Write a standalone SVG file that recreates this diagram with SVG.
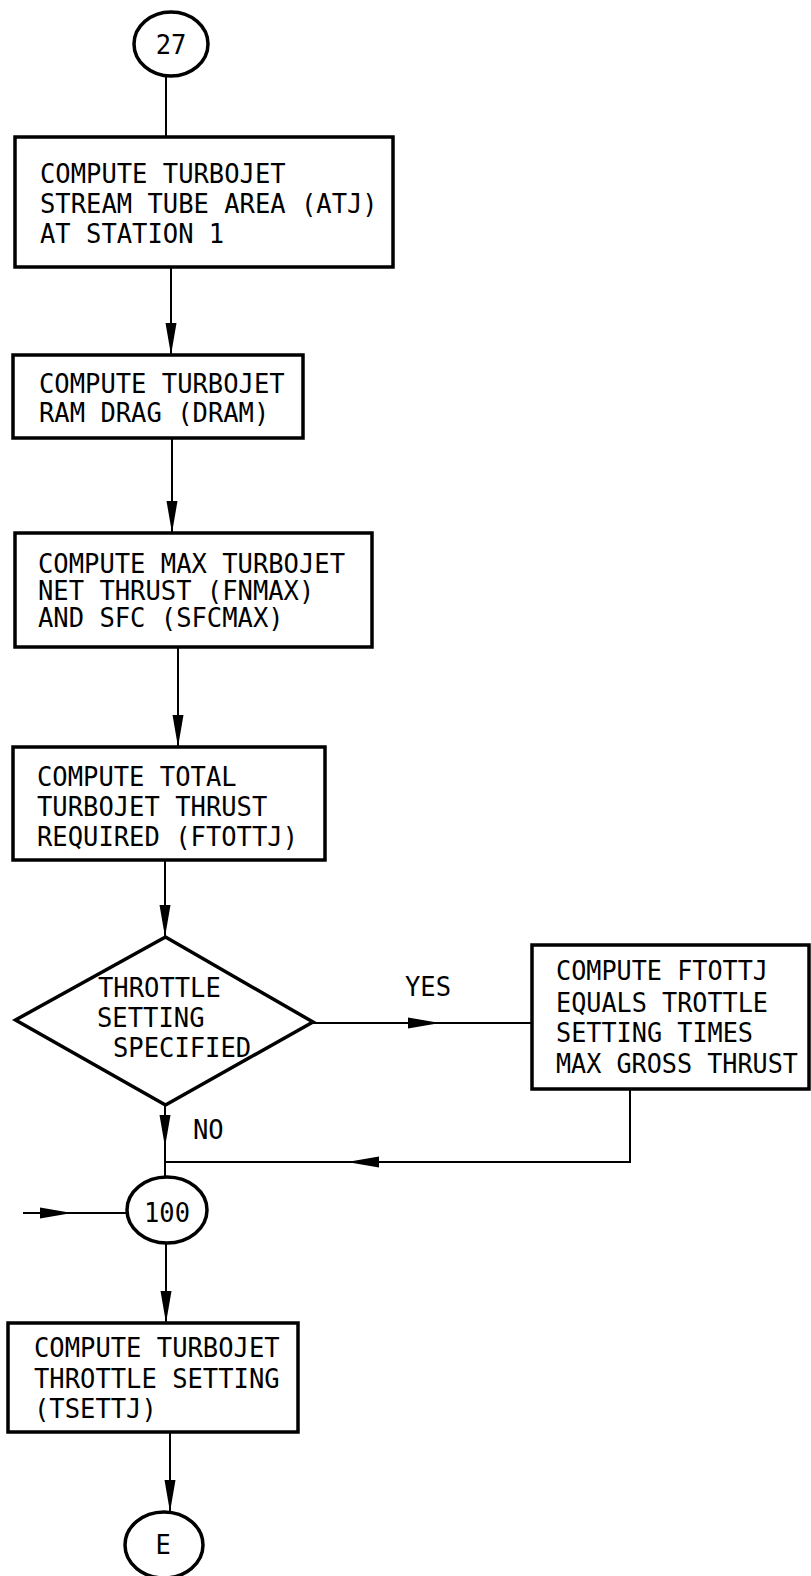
<svg xmlns="http://www.w3.org/2000/svg" width="811" height="1576" viewBox="0 0 811 1576">
<style>
.box{fill:#fff;stroke:#000;stroke-width:3.5}
.term{fill:#fff;stroke:#000;stroke-width:3.5}
.t{font-family:"DejaVu Sans Mono","Liberation Mono",monospace;font-size:27px;fill:#000}
.c{text-anchor:middle}
.ln{fill:none;stroke:#000;stroke-width:2}
</style>
<defs>
<marker id="ah" markerUnits="userSpaceOnUse" markerWidth="32" markerHeight="12" viewBox="0 0 32 12" refX="32" refY="6" orient="auto">
<path d="M0,0.5 L32,6 L0,11.5 Z" fill="#000"/>
</marker>
</defs>
<rect width="811" height="1576" fill="#fff"/>

<g id="connectors">
<path class="ln" d="M166,76 V137"/>
<path class="ln" d="M171,267 V355" marker-end="url(#ah)"/>
<path class="ln" d="M172,438 V533" marker-end="url(#ah)"/>
<path class="ln" d="M178,647 V747" marker-end="url(#ah)"/>
<path class="ln" d="M165,860 V937" marker-end="url(#ah)"/>
<path class="ln" d="M313,1023 H440" marker-end="url(#ah)"/>
<path class="ln" d="M440,1023 H531"/>
<path class="ln" d="M630,1089 V1162 H347" marker-end="url(#ah)"/>
<path class="ln" d="M347,1162 H165"/>
<path class="ln" d="M165,1105 V1147" marker-end="url(#ah)"/>
<path class="ln" d="M165,1147 V1177"/>
<path class="ln" d="M23,1213 H72" marker-end="url(#ah)"/>
<path class="ln" d="M72,1213 H128"/>
<path class="ln" d="M166,1243 V1323" marker-end="url(#ah)"/>
<path class="ln" d="M170,1432 V1512" marker-end="url(#ah)"/>
<text class="t" x="405" y="996" textLength="46" lengthAdjust="spacingAndGlyphs">YES</text>
<text class="t" x="193" y="1139" textLength="30.7" lengthAdjust="spacingAndGlyphs">NO</text>
</g>

<g id="n27">
<ellipse class="term" cx="171" cy="44" rx="37" ry="32"/>
<text class="t" x="155.7" y="54" textLength="30.7" lengthAdjust="spacingAndGlyphs">27</text>
</g>

<g id="box1">
<rect class="box" x="15" y="137" width="378" height="130"/>
<text class="t" x="40" y="183" textLength="245.6" lengthAdjust="spacingAndGlyphs">COMPUTE TURBOJET</text>
<text class="t" x="40" y="213" textLength="337.7" lengthAdjust="spacingAndGlyphs">STREAM TUBE AREA (ATJ)</text>
<text class="t" x="40" y="243" textLength="184.2" lengthAdjust="spacingAndGlyphs">AT STATION 1</text>
</g>

<g id="box2">
<rect class="box" x="13" y="355" width="290" height="83"/>
<text class="t" x="39" y="393" textLength="245.6" lengthAdjust="spacingAndGlyphs">COMPUTE TURBOJET</text>
<text class="t" x="39" y="422" textLength="230.3" lengthAdjust="spacingAndGlyphs">RAM DRAG (DRAM)</text>
</g>

<g id="box3">
<rect class="box" x="15" y="533" width="357" height="114"/>
<text class="t" x="38" y="573" textLength="307" lengthAdjust="spacingAndGlyphs">COMPUTE MAX TURBOJET</text>
<text class="t" x="38" y="600" textLength="276.3" lengthAdjust="spacingAndGlyphs">NET THRUST (FNMAX)</text>
<text class="t" x="38" y="627" textLength="245.6" lengthAdjust="spacingAndGlyphs">AND SFC (SFCMAX)</text>
</g>

<g id="box4">
<rect class="box" x="13" y="747" width="312" height="113"/>
<text class="t" x="37" y="786" textLength="199.6" lengthAdjust="spacingAndGlyphs">COMPUTE TOTAL</text>
<text class="t" x="37" y="816" textLength="230.3" lengthAdjust="spacingAndGlyphs">TURBOJET THRUST</text>
<text class="t" x="37" y="846" textLength="261" lengthAdjust="spacingAndGlyphs">REQUIRED (FTOTTJ)</text>
</g>

<g id="decision">
<polygon class="box" points="165.5,937 313,1022 165.5,1105 15.5,1020"/>
<text class="t" x="98" y="997" textLength="122.8" lengthAdjust="spacingAndGlyphs">THROTTLE</text>
<text class="t" x="97" y="1027" textLength="107.5" lengthAdjust="spacingAndGlyphs">SETTING</text>
<text class="t" x="113" y="1057" textLength="138.2" lengthAdjust="spacingAndGlyphs">SPECIFIED</text>
</g>

<g id="box5">
<rect class="box" x="532" y="945" width="277" height="144"/>
<text class="t" x="556" y="980" textLength="212" lengthAdjust="spacingAndGlyphs">COMPUTE FTOTTJ</text>
<text class="t" x="556" y="1012" textLength="212" lengthAdjust="spacingAndGlyphs">EQUALS TROTTLE</text>
<text class="t" x="556" y="1042" textLength="197" lengthAdjust="spacingAndGlyphs">SETTING TIMES</text>
<text class="t" x="556" y="1073" textLength="242" lengthAdjust="spacingAndGlyphs">MAX GROSS THRUST</text>
</g>

<g id="n100">
<ellipse class="term" cx="167" cy="1210" rx="40" ry="33"/>
<text class="t" x="144" y="1222" textLength="46" lengthAdjust="spacingAndGlyphs">100</text>
</g>

<g id="box6">
<rect class="box" x="8" y="1323" width="290" height="109"/>
<text class="t" x="34" y="1357" textLength="245.6" lengthAdjust="spacingAndGlyphs">COMPUTE TURBOJET</text>
<text class="t" x="34" y="1388" textLength="245.6" lengthAdjust="spacingAndGlyphs">THROTTLE SETTING</text>
<text class="t" x="34" y="1418" textLength="122.8" lengthAdjust="spacingAndGlyphs">(TSETTJ)</text>
</g>

<g id="nE">
<ellipse class="term" cx="164" cy="1545" rx="39" ry="33"/>
<text class="t" x="155.5" y="1554" textLength="15.35" lengthAdjust="spacingAndGlyphs">E</text>
</g>
</svg>
